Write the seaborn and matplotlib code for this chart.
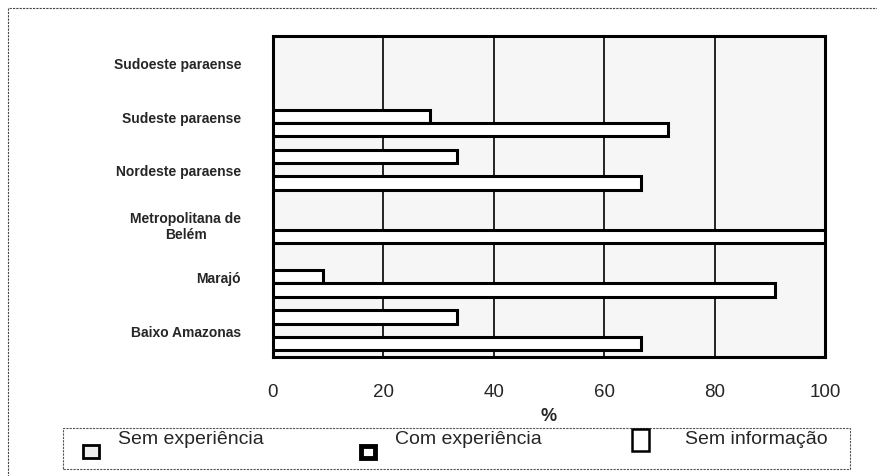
import matplotlib
matplotlib.use("Agg")
import matplotlib.pyplot as plt
import seaborn as sns
import pandas as pd
from matplotlib.patches import Rectangle

categories = ['Sudoeste paraense', 'Sudeste paraense', 'Nordeste paraense',
              'Metropolitana de\nBelém', 'Marajó', 'Baixo Amazonas']
sem_experiencia = [0, 71.5, 66.7, 100, 91, 66.7]
com_experiencia = [0, 28.5, 0, 0, 9, 0]
sem_informacao = [0, 0, 33.3, 0, 0, 33.3]
series_names = ['Sem experiência', 'Com experiência', 'Sem informação']
x_ticks = [0, 20, 40, 60, 80, 100]

rows = []
for c, a, b, d in zip(categories, sem_experiencia, com_experiencia, sem_informacao):
    rows.append((c, series_names[0], a))
    rows.append((c, series_names[1], b))
    rows.append((c, series_names[2], d))
df = pd.DataFrame(rows, columns=['regiao', 'serie', 'valor'])

sns.set_theme(style='white')
plt.rcParams['font.family'] = ['Liberation Sans', 'DejaVu Sans']

fig = plt.figure(figsize=(8.78, 4.77), dpi=100)
ax = fig.add_axes([273/878, 1-358/477, (825-273)/878, (358-37)/477])

hue_order = [series_names[2], series_names[1], series_names[0]]
sns.barplot(data=df, y='regiao', x='valor', hue='serie', hue_order=hue_order,
            order=categories, orient='h', width=0.75, ax=ax,
            palette=['white', 'white', 'white'], edgecolor='black',
            linewidth=2.2, legend=False, zorder=3)
for p in ax.patches:
    if p.get_width() <= 0:
        p.set_visible(False)

ax.set_facecolor('#f6f6f6')
ax.set_xlim(0, 100)
ax.set_xticks(x_ticks)
ax.set_xticklabels([str(t) for t in x_ticks], fontsize=13.5)
ax.set_xlabel('%', fontsize=13, fontweight='bold', labelpad=5)
ax.set_ylabel('')
ax.tick_params(axis='y', length=0, pad=23, labelsize=10)
ax.tick_params(axis='x', length=0, pad=19)
for lbl in ax.get_yticklabels():
    lbl.set_multialignment('center')
    lbl.set_fontweight('bold')
ax.grid(axis='x', color='black', linewidth=1.2, zorder=1)
ax.grid(axis='y', visible=False)
for s in ax.spines.values():
    s.set_visible(True)
    s.set_color('black')
    s.set_linewidth(2.2)

W, H = 878, 477
def fx(x):
    return x / W
def fy(y):
    return 1 - y / H

# outer dashed frame
fig.add_artist(Rectangle((fx(8), fy(490)), fx(880), (490-9)/H,
                         transform=fig.transFigure, fill=False,
                         edgecolor='#444444', linestyle=(0, (2, 1)), linewidth=0.8))

# legend box
fig.add_artist(Rectangle((fx(63), fy(470)), fx(850-63), (470-429)/H,
                         transform=fig.transFigure, fill=False,
                         edgecolor='#555555', linestyle=(0, (2, 1)), linewidth=0.8))
# legend markers
fig.add_artist(Rectangle((fx(83), fy(459)), fx(16), 13/H, transform=fig.transFigure,
                         facecolor='#eeeeee', edgecolor='black', linewidth=2))
fig.add_artist(Rectangle((fx(361), fy(459)), fx(14), 12/H, transform=fig.transFigure,
                         facecolor='white', edgecolor='black', linewidth=3.5))
fig.add_artist(Rectangle((fx(632), fy(452)), fx(17), 22/H, transform=fig.transFigure,
                         facecolor='white', edgecolor='black', linewidth=1.8))
for x, t in [(118, series_names[0]), (395, series_names[1]), (685, series_names[2])]:
    fig.text(fx(x), fy(440), t, fontsize=14, ha='left', va='center')

fig.savefig('out.png', dpi=100)
